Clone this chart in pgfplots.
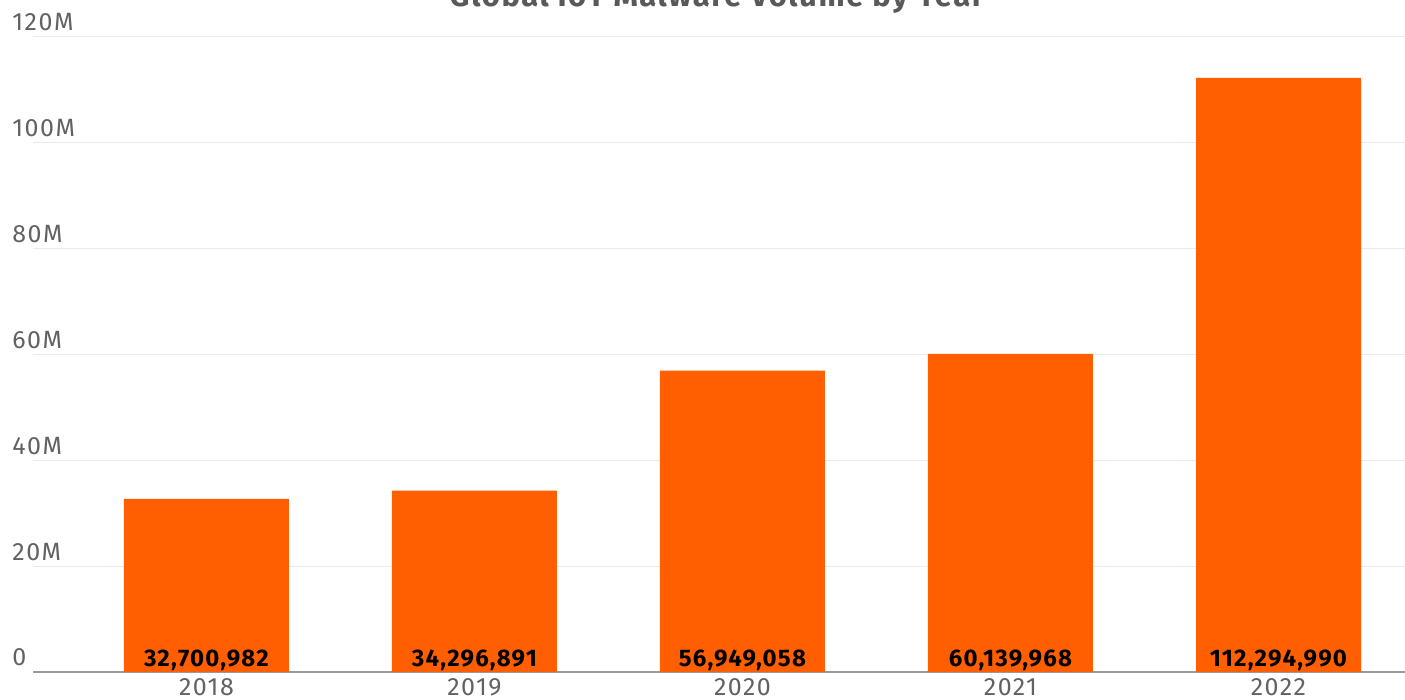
\documentclass[border=0pt]{standalone}
\usepackage{pgfplots}
\pgfplotsset{compat=1.18}
\usepackage{fontspec}
\setmainfont{Fira Sans}
\definecolor{barorange}{HTML}{FF5F00}
\definecolor{ticklab}{HTML}{626262}
\definecolor{gridc}{HTML}{EAEAEA}
\definecolor{axisc}{HTML}{9A9A9A}
\definecolor{titlec}{HTML}{595959}
\begin{document}
\begin{tikzpicture}
\begin{axis}[
  at={(16.5pt,14pt)}, anchor=south west,
  scale only axis, width=686pt, height=317.5pt,
  xmin=-0.647, xmax=4.472, ymin=0, ymax=120,
  axis x line*=bottom, axis y line*=left,
  x axis line style={draw=axisc, line width=1pt, -},
  y axis line style={draw=none},
  major tick length=0pt,
  ytick={0,20,40,60,80,100,120},
  yticklabels={0,20M,40M,60M,80M,100M,120M},
  ymajorgrids, grid style={draw=gridc, line width=0.5pt},
  yticklabel style={anchor=base west, inner sep=0pt, xshift=-10.5pt, yshift=3pt, font=\fontsize{12.5}{12.5}\selectfont\addfontfeatures{LetterSpace=6}, text=ticklab},
  xtick={0,1,2,3,4},
  xticklabels={2018,2019,2020,2021,2022},
  xticklabel style={anchor=north, inner sep=0pt, yshift=-3pt, font=\fontsize{12.5}{12.5}\selectfont\addfontfeatures{LetterSpace=6}, text=ticklab},
  clip=false,
]
\addplot[ybar, bar width=82.5pt, fill=barorange, draw=none] coordinates {
  (0,32.700982) (1,34.296891) (2,56.949058) (3,60.139968) (4,112.29499)
};
\addplot[draw=none, nodes near coords, point meta=explicit symbolic,
  every node near coord/.style={anchor=base, inner sep=0pt, yshift=2.5pt, font=\bfseries\fontsize{12}{12}\selectfont\addfontfeatures{LetterSpace=5}, text=black}]
  table[meta=lab] {
x y lab
0 0 32,700,982
1 0 34,296,891
2 0 56,949,058
3 0 60,139,968
4 0 112,294,990
};
\end{axis}
\node[anchor=base, font=\bfseries\fontsize{15.5}{15.5}\selectfont\addfontfeatures{LetterSpace=5}, text=titlec] at (358.5pt,346.5pt) {Global IoT Malware Volume by Year};
\pgfresetboundingbox
\path (0,0) rectangle (702.5pt,350pt);
\end{tikzpicture}
\end{document}
